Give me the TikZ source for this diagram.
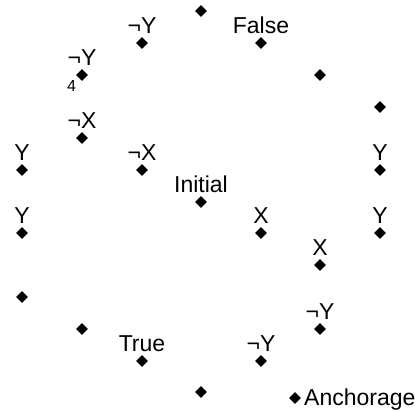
\documentclass[tikz,border=0pt]{standalone}
\usepackage{fontspec}
\setmainfont{Liberation Sans}
\usetikzlibrary{shapes.geometric}
\begin{document}
\begin{tikzpicture}[x=1pt,y=-1pt,
  dot/.style={diamond,fill=black,inner sep=0pt,minimum width=12pt,minimum height=12pt},
  lbl/.style={font=\fontsize{23}{27}\selectfont,inner sep=0pt,anchor=base},
  small/.style={font=\fontsize{16}{19}\selectfont,inner sep=0pt,anchor=base}]
\useasboundingbox (0,0) rectangle (415,411);
% points
\node[dot] (p1) at (201,11) {};
\node[dot] (p2) at (142,43) {};
\node[dot] (p3) at (261,43) {};
\node[dot] (p4) at (320,75) {};
\node[dot] (p5) at (82,75) {};
\node[dot] (p6) at (380,107) {};
\node[dot] (p7) at (82,138) {};
\node[dot] (p8) at (22,170) {};
\node[dot] (p9) at (142,170) {};
\node[dot] (p10) at (380,170) {};
\node[dot] (p11) at (201,202) {};
\node[dot] (p12) at (22,233) {};
\node[dot] (p13) at (261,233) {};
\node[dot] (p14) at (380,233) {};
\node[dot] (p15) at (320,265) {};
\node[dot] (p16) at (22,297) {};
\node[dot] (p17) at (82,329) {};
\node[dot] (p18) at (320,329) {};
\node[dot] (p19) at (142,361) {};
\node[dot] (p20) at (261,361) {};
\node[dot] (p21) at (201,392) {};
\node[dot] (p22) at (295,398) {};
% labels
\node[lbl] (l2) at ([yshift=9pt]p2.center) {¬Y};
\node[lbl] (l3) at ([yshift=9pt]p3.center) {False};
\node[lbl] (l5) at ([yshift=9pt]p5.center) {¬Y};
\node[small] (l5b) at ([xshift=-10.5pt,yshift=-16.5pt]p5.center) {4};
\node[lbl] (l7) at ([yshift=9pt]p7.center) {¬X};
\node[lbl] (l8) at ([yshift=9pt]p8.center) {Y};
\node[lbl] (l9) at ([yshift=9pt]p9.center) {¬X};
\node[lbl] (l10) at ([yshift=9pt]p10.center) {Y};
\node[lbl] (l11) at ([yshift=9pt]p11.center) {Initial};
\node[lbl] (l12) at ([yshift=9pt]p12.center) {Y};
\node[lbl] (l13) at ([yshift=9pt]p13.center) {X};
\node[lbl] (l14) at ([yshift=9pt]p14.center) {Y};
\node[lbl] (l15) at ([yshift=9pt]p15.center) {X};
\node[lbl] (l18) at ([yshift=9pt]p18.center) {¬Y};
\node[lbl] (l19) at ([yshift=9pt]p19.center) {True};
\node[lbl] (l20) at ([yshift=9pt]p20.center) {¬Y};
\node[lbl,anchor=base west] (l22) at ([xshift=9pt,yshift=-8pt]p22.center) {Anchorage};
\end{tikzpicture}
\end{document}
